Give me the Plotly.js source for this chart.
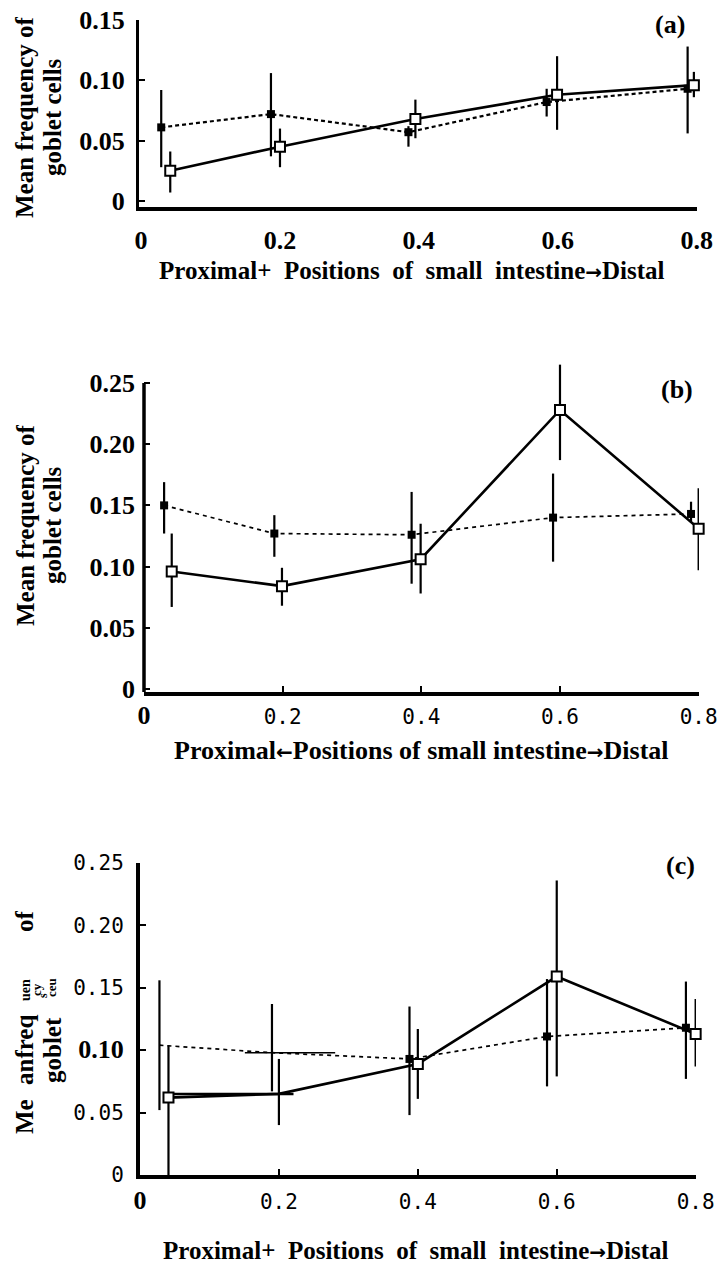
<!DOCTYPE html>
<html><head><meta charset="utf-8">
<script src="https://cdn.plot.ly/plotly-3.0.1.min.js"></script>
<style>html,body{margin:0;padding:0;background:#fff;}#chart{width:717px;height:1263px;}</style>
</head><body><div id="chart"></div>
<script>
// ---------- tick values / labels ----------
const tickValsX = [0, 0.2, 0.4, 0.6, 0.8];
const tickLabelsX = ['0', '0.2', '0.4', '0.6', '0.8'];
const tickValsYa = [0, 0.05, 0.10, 0.15];
const tickLabelsYa = ['0', '0.05', '0.10', '0.15'];
const tickValsYbc = [0, 0.05, 0.10, 0.15, 0.20, 0.25];
const tickLabelsYbc = ['0', '0.05', '0.10', '0.15', '0.20', '0.25'];

// ---------- panel (a) ----------
const posFilledA = [0.029, 0.187, 0.385, 0.584, 0.787];
const meanFilledA = [0.061, 0.072, 0.057, 0.082, 0.093];
const lowFilledA = [0.028, 0.037, 0.045, 0.070, 0.056];
const highFilledA = [0.092, 0.106, 0.062, 0.093, 0.128];
const posOpenA = [0.042, 0.200, 0.395, 0.599, 0.796];
const meanOpenA = [0.025, 0.045, 0.068, 0.088, 0.096];
const lowOpenA = [0.007, 0.028, 0.052, 0.059, 0.086];
const highOpenA = [0.041, 0.060, 0.084, 0.120, 0.107];

// ---------- panel (b) ----------
const posFilledB = [0.029, 0.188, 0.386, 0.590, 0.789];
const meanFilledB = [0.150, 0.127, 0.126, 0.140, 0.143];
const lowFilledB = [0.127, 0.108, 0.086, 0.104, 0.136];
const highFilledB = [0.169, 0.142, 0.161, 0.176, 0.153];
const posOpenB = [0.040, 0.199, 0.399, 0.600, 0.800];
const meanOpenB = [0.096, 0.084, 0.106, 0.228, 0.131];
const lowOpenB = [0.067, 0.068, 0.078, 0.187, 0.097];
const highOpenB = [0.127, 0.099, 0.135, 0.265, 0.164];

// ---------- panel (c) ----------
const posFilledC = [0.028, 0.190, 0.388, 0.586, 0.786];
const meanFilledC = [0.104, 0.098, 0.093, 0.111, 0.118];
const lowFilledC = [0.052, 0.067, 0.048, 0.071, 0.077];
const highFilledC = [0.156, 0.137, 0.135, 0.157, 0.155];
const xMinusFilledC = [0, 0.039, 0, 0, 0];
const xPlusFilledC = [0, 0.091, 0, 0, 0];
const posOpenC = [0.041, 0.200, 0.400, 0.600, 0.800];
const meanOpenC = [0.062, 0.065, 0.089, 0.159, 0.113];
const lowOpenC = [0.000, 0.040, 0.061, 0.079, 0.087];
const highOpenC = [0.104, 0.093, 0.117, 0.236, 0.141];
const xMinusOpenC = [0, 0.152, 0, 0, 0];
const xPlusOpenC = [0, 0.021, 0, 0, 0];

// ---------- helpers ----------
const SERIF = "'Liberation Serif','Times New Roman',serif";
const MONO = "'DejaVu Sans Mono',monospace";
const W = 717, H = 1263;
const PX = x => x / W;
const PY = y => 1 - y / H;
const boldLbl = t => `<b><span style="font-family:${SERIF};font-size:26px">${t}</span></b>`;
const ARROW_R = `<span style="font-family:'DejaVu Sans';font-size:20px">\u2192</span>`;
const ARROW_L = `<span style="font-family:'DejaVu Sans';font-size:20px">\u2190</span>`;
const diff = (a, b) => a.map((v, i) => v - b[i]);

function series(pos, mean, low, high, xa, ya, kind, extra) {
  const filled = kind === 'filled';
  const t = {
    type: 'scatter', mode: 'lines+markers', x: pos, y: mean, xaxis: xa, yaxis: ya,
    cliponaxis: false, hoverinfo: 'skip',
    line: filled ? {color: '#000', width: 2.2, dash: '4px,3px'} : {color: '#000', width: 2.6},
    marker: filled ? {symbol: 'square', size: 8, color: '#000'}
                   : {symbol: 'square', size: 10, color: '#fff', line: {color: '#000', width: 2}},
    error_y: {type: 'data', symmetric: false, array: diff(high, mean), arrayminus: diff(mean, low),
              width: 0, thickness: 2.2, color: '#000'}
  };
  return Object.assign(t, extra || {});
}

const data = [
  series(posFilledA, meanFilledA, lowFilledA, highFilledA, 'x', 'y', 'filled'),
  series(posOpenA, meanOpenA, lowOpenA, highOpenA, 'x', 'y', 'open'),
  series(posFilledB, meanFilledB, lowFilledB, highFilledB, 'x2', 'y2', 'filled', {line: {color: '#000', width: 1.7, dash: '4px,4px'}}),
  series(posOpenB, meanOpenB, lowOpenB, highOpenB, 'x2', 'y2', 'open'),
  series(posFilledC, meanFilledC, lowFilledC, highFilledC, 'x3', 'y3', 'filled', {
    line: {color: '#000', width: 1.7, dash: '4px,4px'},
    marker: {symbol: 'square', size: 8, color: '#000', opacity: [0, 0, 1, 1, 1]},
    error_x: {type: 'data', symmetric: false, array: xPlusFilledC, arrayminus: xMinusFilledC, width: 0, thickness: 1.5, color: '#000'}
  }),
  series(posOpenC, meanOpenC, lowOpenC, highOpenC, 'x3', 'y3', 'open', {
    marker: {symbol: 'square', size: 10, color: '#fff', opacity: [1, 0, 1, 1, 1], line: {color: '#000', width: 2}},
    error_x: {type: 'data', symmetric: false, array: xPlusOpenC, arrayminus: xMinusOpenC, width: 0, thickness: 2.5, color: '#000'}
  })
];

const axBase = {showgrid: false, zeroline: false, showline: true, linecolor: '#000', mirror: false,
  ticks: 'inside', ticklen: 6, tickwidth: 2, tickcolor: '#000', tickmode: 'array', fixedrange: true,
  ticklabeloverflow: 'allow'};

const serifFont = {family: SERIF, size: 26, color: '#000', weight: 'bold'};
const monoFont = {family: MONO, size: 21, color: '#000'};

const layout = {
  width: W, height: H, margin: {l: 0, r: 0, t: 0, b: 0},
  paper_bgcolor: '#fff', plot_bgcolor: 'rgba(0,0,0,0)', showlegend: false,
  xaxis: Object.assign({}, axBase, {domain: [PX(139), PX(697)], range: [-0.003, 0.8005], anchor: 'y',
    tickvals: tickValsX, ticktext: tickLabelsX.map(boldLbl), ticks: '', tickfont: serifFont,
    linewidth: 4, ticklabelstandoff: 7}),
  yaxis: Object.assign({}, axBase, {domain: [PY(207), PY(20)], range: [-0.005, 0.15], anchor: 'x',
    tickvals: tickValsYa, ticktext: tickLabelsYa.map(boldLbl), tickfont: serifFont,
    linewidth: 3, ticklabelstandoff: 6}),
  xaxis2: Object.assign({}, axBase, {domain: [PX(144), PX(699)], range: [0, 0.8005], anchor: 'y2',
    tickvals: tickValsX, ticktext: tickLabelsX.map((t, i) => i === 0 ? boldLbl(t) : t), tickfont: monoFont,
    linewidth: 4, ticklabelstandoff: 3}),
  // y-range reaches a bit above 0.25 so the tallest error bar is not clipped; the axis line is drawn as a shape
  yaxis2: Object.assign({}, axBase, {domain: [PY(692), PY(360)], range: [-0.0025, 0.2688], anchor: 'x2',
    tickvals: tickValsYbc, ticktext: tickLabelsYbc.map(boldLbl), tickfont: serifFont,
    showline: false, ticklabelstandoff: 8}),
  xaxis3: Object.assign({}, axBase, {domain: [PX(140), PX(696)], range: [0, 0.8005], anchor: 'y3',
    tickvals: tickValsX, ticktext: tickLabelsX.map((t, i) => i === 0 ? boldLbl(t) : t), tickfont: monoFont,
    linewidth: 4, ticklabelstandoff: 5}),
  yaxis3: Object.assign({}, axBase, {domain: [PY(1175), PY(863)], range: [0, 0.25], anchor: 'x3',
    tickvals: tickValsYbc, ticktext: tickLabelsYbc.map(t => t === '0.10' ? boldLbl(t) : t), tickfont: monoFont,
    linewidth: 4, ticklabelstandoff: 8}),
  shapes: [
    {type: 'line', xref: 'x2 domain', yref: 'y2', x0: 0, x1: 0, y0: -0.0025, y1: 0.25,
     line: {color: '#000', width: 3.5}}
  ],
  annotations: []
};

function ann(text, x, y, size, angle, family) {
  layout.annotations.push({text: text, x: PX(x), y: PY(y), xref: 'paper', yref: 'paper',
    xanchor: 'center', yanchor: 'middle', showarrow: false, textangle: angle || 0,
    font: {family: family || SERIF, size: size, color: '#000', weight: 'bold'}});
}

// panel labels
ann('(a)', 670, 25, 26);
ann('(b)', 677, 390, 26);
ann('(c)', 680, 865, 26);

// x-axis titles
ann('Proximal+  Positions  of  small  intestine' + ARROW_R + 'Distal', 412, 270, 25);
ann('Proximal' + ARROW_L + 'Positions of small intestine' + ARROW_R + 'Distal', 421, 750, 26);
ann('Proximal+  Positions  of  small  intestine' + ARROW_R + 'Distal', 416, 1250, 25);

// y-axis titles (a) and (b)
ann('Mean frequency of', 25, 117, 25, -90);
ann('goblet cells', 53, 117, 25, -90);
ann('Mean frequency of', 25, 525, 25, -90);
ann('goblet cells', 52, 525, 25, -90);

// y-axis title (c) (broken typesetting in the original)
ann('Me', 24, 1116, 25, -90);
ann('anfreq', 24, 1050, 25, -90);
ann('uen', 26, 990, 14, -90);
ann('cy', 37, 990, 13, -90);
ann('s', 43, 996, 12, -90);
ann('of', 24, 921, 25, -90);
ann('goblet', 52, 1050, 25, -90);
ann('ceu', 51, 988, 13, -90);

Plotly.newPlot('chart', data, layout, {staticPlot: true, displayModeBar: false});
</script>
</body></html>
